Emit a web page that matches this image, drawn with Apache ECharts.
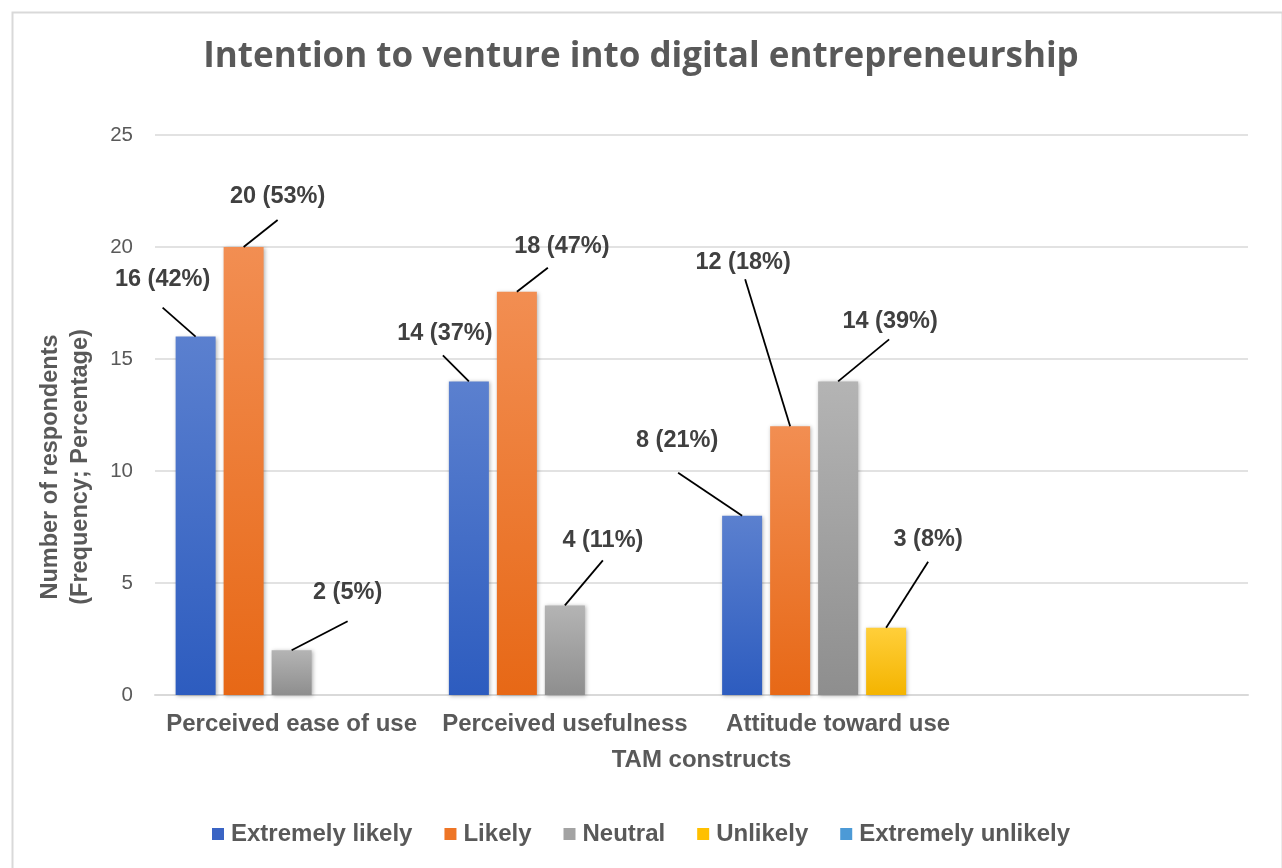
<!DOCTYPE html>
<html>
<head>
<meta charset="utf-8">
<script src="https://cdn.jsdelivr.net/npm/echarts@6/dist/echarts.min.js"></script>
<style>
html,body{margin:0;padding:0;background:#fff;}
#chart{width:1282px;height:868px;}
</style>
</head>
<body>
<div id="chart"></div>
<script>
// ---- data ----
const categories = ['Perceived ease of use', 'Perceived usefulness', 'Attitude toward use', ''];
const seriesNames = ['Extremely likely', 'Likely', 'Neutral', 'Unlikely', 'Extremely unlikely'];
const extremelyLikely = [16, 14, 8, null];
const likely = [20, 18, 12, null];
const neutral = [2, 4, 14, null];
const unlikely = [null, null, 3, null];
const extremelyUnlikely = [null, null, null, null];
const extremelyLikelyPct = ['42%', '37%', '21%', ''];
const likelyPct = ['53%', '47%', '18%', ''];
const neutralPct = ['5%', '11%', '39%', ''];
const unlikelyPct = ['', '', '8%', ''];
const extremelyUnlikelyPct = ['', '', '', ''];
const yTicks = [0, 5, 10, 15, 20, 25];

// ---- styling / layout (not data) ----
const values = [extremelyLikely, likely, neutral, unlikely, extremelyUnlikely];
const pcts = [extremelyLikelyPct, likelyPct, neutralPct, unlikelyPct, extremelyUnlikelyPct];
const gradients = [
  ['#5b80cf', '#2d5cbf'],
  ['#f28e52', '#e76816'],
  ['#b4b4b4', '#8e8e8e'],
  ['#ffcf3a', '#f4b400'],
  ['#5aa5de', '#3b8ad0']
];
const legendColors = ['#3a64c4', '#ee7526', '#a3a3a3', '#ffc000', '#4c9ad6'];
const BAR_W = 40, BAR_GAP = 8;
// label offsets relative to bar-top centre: [labelDx, labelDy, lineStartDx, lineStartDy]
const labelOffsets = [
  [[-33, -57, -33, -29], [-24, -48, -26, -26], [-65, -75, -64, -43]],
  [[34, -50, 34, -27], [45, -45, 31, -24], [-47, -164, -45, -147]],
  [[56, -58, 56, -29], [38, -65, 38, -45], [52, -60, 51, -42]],
  [null, null, [42, -88, 42, -66]]
];

const TXT = '#595959';
const FONT = '"Liberation Sans", Arial, sans-serif';

const chart = echarts.init(document.getElementById('chart'), null, {renderer: 'canvas'});

const barSeries = seriesNames.map((name, si) => ({
  name: name,
  type: 'bar',
  data: values[si],
  barWidth: BAR_W,
  barGap: (BAR_GAP / BAR_W * 100) + '%',
  itemStyle: {
    color: new echarts.graphic.LinearGradient(0, 0, 0, 1, [
      {offset: 0, color: gradients[si][0]},
      {offset: 1, color: gradients[si][1]}
    ]),
    shadowBlur: 4,
    shadowColor: 'rgba(0,0,0,0.3)',
    shadowOffsetX: 1,
    shadowOffsetY: 1
  },
  label: {
    show: true,
    position: 'top',
    fontFamily: FONT,
    fontWeight: 'bold',
    fontSize: 23.5,
    color: '#404040',
    formatter: p => p.value == null ? '' : p.value + ' (' + pcts[si][p.dataIndex] + ')'
  },
  labelLayout: function (params) {
    const o = (labelOffsets[params.seriesIndex] || [])[params.dataIndex];
    if (!o) return {};
    const r = params.rect;
    return {
      x: r.x + r.width / 2 + o[0],
      y: r.y + o[1],
      align: 'center',
      verticalAlign: 'middle'
    };
  }
}));

// leader lines, drawn through the axes from the same values
const leaderData = [];
values.forEach((arr, si) => arr.forEach((v, ci) => {
  if (v != null) leaderData.push([ci, v, si]);
}));
const leaderSeries = {
  type: 'custom',
  silent: true,
  z: 5,
  data: leaderData,
  encode: {x: 0, y: 1},
  renderItem: function (params, api) {
    const ci = api.value(0), v = api.value(1), si = api.value(2);
    const o = (labelOffsets[si] || [])[ci];
    if (!o) return null;
    const p = api.coord([ci, v]);
    const n = seriesNames.length;
    const cx = p[0] + (si - (n - 1) / 2) * (BAR_W + BAR_GAP);
    const top = p[1];
    return {
      type: 'line',
      shape: {x1: cx + o[2], y1: top + o[3], x2: cx, y2: top},
      style: {stroke: '#000000', lineWidth: 1.8}
    };
  }
};

const option = {
  backgroundColor: '#ffffff',
  animation: false,
  title: {
    text: 'Intention to venture into digital entrepreneurship',
    left: 'center',
    top: 35,
    textStyle: {
      fontFamily: '"Open Sans", sans-serif',
      fontWeight: 'bold',
      fontSize: 35,
      color: TXT
    }
  },
  grid: {left: 155, right: 34, top: 135, bottom: 173, containLabel: false},
  legend: {
    bottom: 17,
    left: 'center',
    icon: 'rect',
    itemWidth: 12,
    itemHeight: 12,
    itemGap: 32,
    textStyle: {fontFamily: FONT, fontWeight: 'bold', fontSize: 24, color: TXT, padding: [0, 0, 0, 2]},
    data: seriesNames.map((n, i) => ({name: n, itemStyle: {color: legendColors[i]}}))
  },
  xAxis: {
    type: 'category',
    data: categories,
    name: 'TAM constructs',
    nameLocation: 'middle',
    nameGap: 53,
    nameTextStyle: {fontFamily: FONT, fontWeight: 'bold', fontSize: 24, color: TXT},
    axisLine: {lineStyle: {color: '#d9d9d9', width: 2}},
    axisTick: {show: false},
    axisLabel: {fontFamily: FONT, fontWeight: 'bold', fontSize: 24, color: TXT, margin: 17, interval: 0}
  },
  yAxis: {
    type: 'value',
    min: yTicks[0],
    max: yTicks[yTicks.length - 1],
    interval: yTicks[1] - yTicks[0],
    axisLine: {show: false},
    axisTick: {show: false},
    splitLine: {lineStyle: {color: '#d9d9d9', width: 1.5}},
    axisLabel: {fontFamily: FONT, fontSize: 20.5, color: TXT, margin: 22}
  },
  graphic: [
    {
      type: 'rect',
      left: 10, top: 10,
      shape: {width: 1270, height: 880},
      style: {fill: 'none', stroke: '#d9d9d9', lineWidth: 2},
      silent: true
    },
    {
      type: 'text',
      x: 66, y: 467,
      rotation: Math.PI / 2,
      style: {
        text: 'Number of respondents\n(Frequency; Percentage)',
        fontFamily: FONT,
        fontWeight: 'bold',
        fontSize: 23.5,
        lineHeight: 30,
        fill: TXT,
        align: 'center',
        verticalAlign: 'middle'
      }
    }
  ],
  series: barSeries.concat([leaderSeries])
};
chart.setOption(option);
</script>
</body>
</html>
